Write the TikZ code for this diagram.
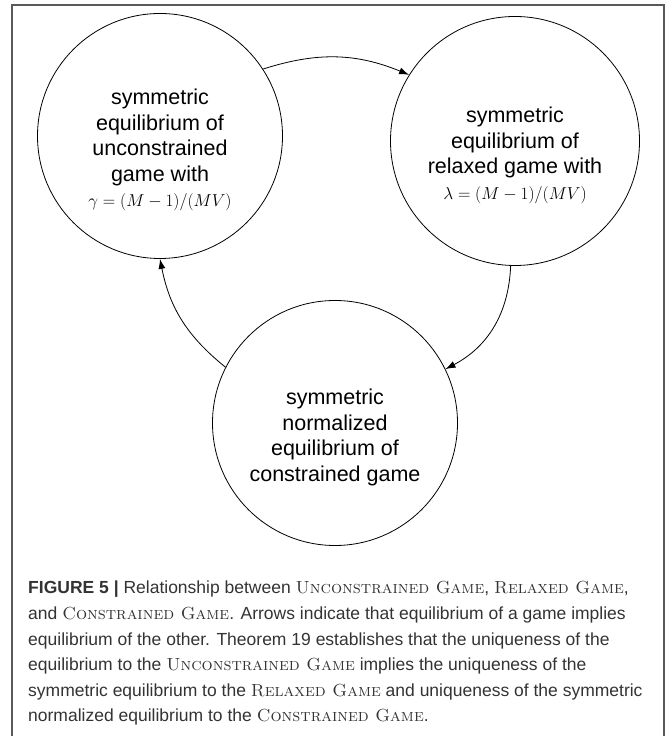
\documentclass[tikz,border=0pt]{standalone}
\usepackage{amsmath}
\usepackage{fontspec}
\usepackage{tikz}
\usetikzlibrary{arrows.meta}
\newfontfamily\helv{Liberation Sans}
\newcommand{\gamename}[1]{{\rmfamily\scshape #1}}
\newcommand{\mathline}[1]{{\fontsize{18.5}{25.5}\selectfont$#1$}}

\begin{document}
\begin{tikzpicture}[x=1pt, y=1pt,
    gamecircle/.style={circle, draw, line width=0.8pt, minimum size=245pt, inner sep=0pt,
        align=center, font=\helv\fontsize{21.5}{25.5}\selectfont},
    implies/.style={-{Latex[length=10pt, width=7pt]}, line width=0.8pt}]
    \useasboundingbox (0,0) rectangle (668,736);
    % frame
    \draw[line width=1.5pt, black!65] (12,731) rectangle (664,-10);
    % the three games
    \node[gamecircle] (unconstrained) at (160,600)
        {\rule{0pt}{44pt}symmetric\\ equilibrium of\\ unconstrained\\ game with\\ \mathline{\gamma=(M-1)/(MV)}};
    \node[gamecircle, minimum size=249pt] (relaxed) at (515,595)
        {\rule{0pt}{44pt}symmetric\\ equilibrium of\\ relaxed game with\\ \mathline{\lambda=(M-1)/(MV)}};
    \node[gamecircle] (constrained) at (335,313)
        {\rule{0pt}{44pt}symmetric\\ normalized\\ equilibrium of\\ constrained game};
    \draw[implies] (unconstrained.33) to[bend left=20] (relaxed.148);
    \draw[implies] (relaxed.268) to[bend left=30] (constrained.26);
    \draw[implies] (constrained.153) to[bend left=20] (unconstrained.270);
    % caption
    \node[anchor=north west, inner sep=0pt, align=left, text=black!80,
        font=\helv\fontsize{17.5}{25.6}\selectfont] (caption) at (28,155)
        {\textbf{FIGURE 5 |} Relationship between \gamename{Unconstrained Game}, \gamename{Relaxed Game},\\
        and \gamename{Constrained Game}. Arrows indicate that equilibrium of a game implies\\
        equilibrium of the other. Theorem 19 establishes that the uniqueness of the\\
        equilibrium to the \gamename{Unconstrained Game} implies the uniqueness of the\\
        symmetric equilibrium to the \gamename{Relaxed Game} and uniqueness of the symmetric\\
        normalized equilibrium to the \gamename{Constrained Game}.};
\end{tikzpicture}
\end{document}
